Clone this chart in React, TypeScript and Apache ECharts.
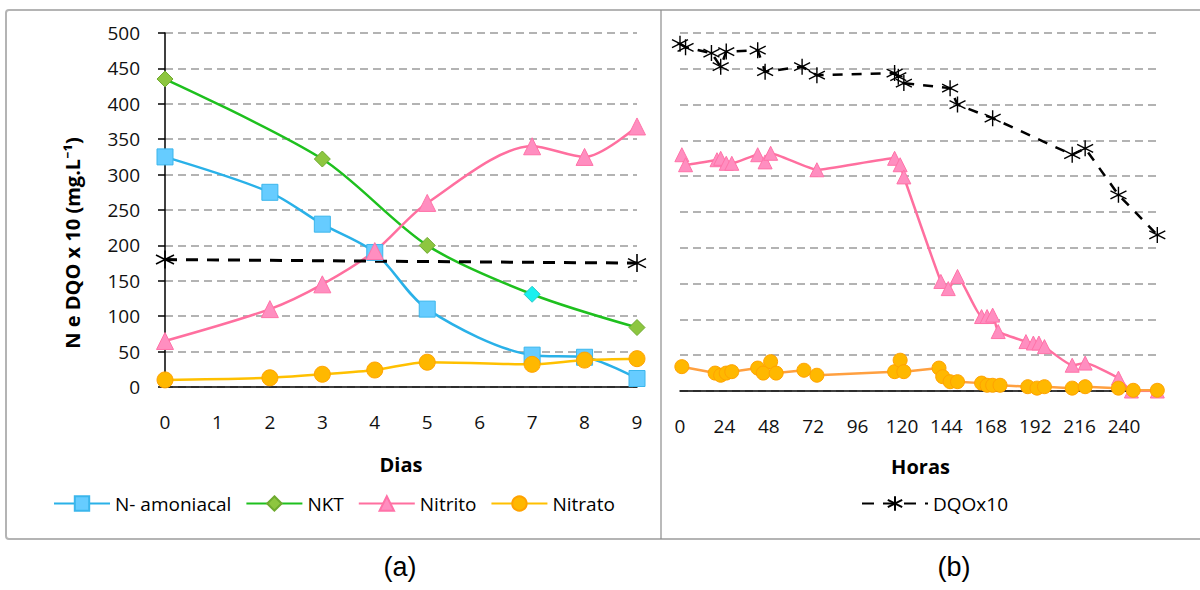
import React, { useEffect, useRef } from 'react';
import * as echarts from 'echarts';

// ---------- Panel (a): days ----------
const dias = [0, 2, 3, 4, 5, 7, 8, 9];
const amoniacal = [325, 275, 230, 190, 110, 45, 42, 12];
const nktDias = [0, 3, 5, 7, 9];
const nkt = [435, 322, 200, 131, 84];
const nitritoA = [65, 110, 145, 192, 260, 340, 325, 368];
const nitratoA = [10, 13, 18, 24, 35, 32, 38, 40];
const dqoDias = [0, 9];
const dqoA = [180, 175];

// ---------- Panel (b): hours ----------
const horasDQO = [0, 3, 17, 22, 25, 42, 46, 66, 74, 116, 118, 121, 146, 150, 169, 212, 219, 237, 258];
const dqoB = [485, 480, 472, 453, 474, 476, 446, 453, 441, 444, 439, 430, 423, 400, 381, 330, 339, 274, 218];
const horasNitrito = [1, 3, 20, 22, 25, 28, 42, 46, 49, 74, 116, 119, 121, 141, 145, 150, 163, 166, 169, 172, 187, 191, 194, 197, 212, 219, 237, 244, 258];
const nitritoB = [330, 316, 323, 325, 318, 318, 330, 320, 332, 309, 325, 316, 299, 153, 143, 160, 104, 104, 106, 83, 69, 67, 67, 62, 36, 39, 18, 0, 0];
const horasNitrato = [1, 19, 22, 25, 28, 42, 45, 49, 52, 67, 74, 116, 119, 121, 140, 142, 146, 150, 163, 166, 169, 173, 188, 193, 197, 212, 219, 237, 245, 258];
const nitratoB = [34, 25, 22, 25, 27, 32, 25, 41, 25, 29, 22, 27, 43, 27, 32, 20, 13, 13, 11, 8, 8, 8, 6, 4, 6, 4, 6, 4, 1, 1];

const legendA = ['N- amoniacal', 'NKT', 'Nitrito', 'Nitrato'];
const legendB = ['DQOx10'];

const FONT = '"Open Sans", "Noto Sans", sans-serif';
const STAR = 'path://M0,-10L0,10M-8.7,-5L8.7,5M-8.7,5L8.7,-5';

const pairs = (xs: number[], ys: number[]) => xs.map((x, i) => [x, ys[i]]);

const colors = {
  blueLine: '#2AB1E8', blueFill: '#66CCFF', blueBorder: '#3BB6EC',
  greenLine: '#1EC01E', greenFill: '#8DC63F', greenBorder: '#6EAA2E',
  pinkLine: '#FF6F9F', pinkFill: '#FF8EC0', pinkBorder: '#FF72A8',
  goldLine: '#FFC000', goldFill: '#FFB800', goldBorder: '#FFA200',
  orangeLine: '#FFA040',
};

export default function App() {
  const ref = useRef<HTMLDivElement>(null);
  useEffect(() => {
    if (!ref.current) return;
    const chart = echarts.init(ref.current, null, { renderer: 'svg' });
    const dashedSplit = { show: true, lineStyle: { color: '#9a9a9a', type: [8, 5], width: 1.5 } };
    const option: any = {
      animation: false,
      backgroundColor: '#ffffff',
      textStyle: { fontFamily: FONT },
      grid: [
        { left: 165, top: 33, width: 472, height: 354 },
        { left: 680, top: 33, width: 481, height: 358 },
      ],
      xAxis: [
        {
          gridIndex: 0, type: 'value', min: 0, max: 9, interval: 1,
          axisLine: { show: true, onZero: false, lineStyle: { color: '#000', width: 1.5 } },
          axisTick: { show: false },
          axisLabel: { fontSize: 19, margin: 25, color: '#111', fontFamily: FONT },
          splitLine: { show: false },
          name: 'Dias', nameLocation: 'middle', nameGap: 67,
          nameTextStyle: { fontSize: 20, fontWeight: 'bold', color: '#000', fontFamily: FONT },
        },
        {
          gridIndex: 1, type: 'value', min: 0, max: 260, interval: 24,
          axisLine: { show: true, onZero: false, lineStyle: { color: '#000', width: 1.5 } },
          axisTick: { show: false },
          axisLabel: {
            fontSize: 19, margin: 25, color: '#111', fontFamily: FONT,
            formatter: (v: number) => (v % 24 === 0 ? String(v) : ''),
          },
          splitLine: { show: false },
          name: 'Horas', nameLocation: 'middle', nameGap: 65,
          nameTextStyle: { fontSize: 20, fontWeight: 'bold', color: '#000', fontFamily: FONT },
        },
      ],
      yAxis: [
        {
          gridIndex: 0, type: 'value', min: 0, max: 500, interval: 50,
          axisLine: { show: true, lineStyle: { color: '#000', width: 1.5 } },
          axisTick: { show: true, length: 7, lineStyle: { color: '#000', width: 1.5 } },
          axisLabel: { fontSize: 19, margin: 25, color: '#111', fontFamily: FONT },
          splitLine: dashedSplit,
        },
        {
          gridIndex: 1, type: 'value', min: 0, max: 500, interval: 50,
          axisLine: { show: false }, axisTick: { show: false }, axisLabel: { show: false },
          splitLine: dashedSplit,
        },
      ],
      legend: [
        {
          data: legendA, left: 48, top: 489, itemWidth: 56, itemHeight: 18, itemGap: 14,
          textStyle: { fontSize: 19, color: '#000', fontFamily: FONT },
        },
        {
          data: legendB, left: 856, top: 489, itemWidth: 66, itemHeight: 18,
          textStyle: { fontSize: 19, color: '#000', fontFamily: FONT },
        },
      ],
      series: [
        {
          name: 'N- amoniacal', type: 'line', xAxisIndex: 0, yAxisIndex: 0, smooth: 0.3,
          data: pairs(dias, amoniacal), symbol: 'rect', symbolSize: 16,
          lineStyle: { color: colors.blueLine, width: 2.5 },
          itemStyle: { color: colors.blueFill, borderColor: colors.blueBorder, borderWidth: 1 },
        },
        {
          name: 'NKT', type: 'line', xAxisIndex: 0, yAxisIndex: 0, smooth: 0.3,
          data: pairs(nktDias, nkt).map((p, i) =>
            nktDias[i] === 7
              ? { value: p, itemStyle: { color: '#19F0F0', borderColor: '#2CC8C8' } }
              : { value: p }),
          symbol: 'diamond', symbolSize: 16,
          lineStyle: { color: colors.greenLine, width: 2.5 },
          itemStyle: { color: colors.greenFill, borderColor: colors.greenBorder, borderWidth: 1 },
        },
        {
          name: 'Nitrito', type: 'line', xAxisIndex: 0, yAxisIndex: 0, smooth: 0.3,
          data: pairs(dias, nitritoA), symbol: 'triangle', symbolSize: 17,
          lineStyle: { color: colors.pinkLine, width: 2.5 },
          itemStyle: { color: colors.pinkFill, borderColor: colors.pinkBorder, borderWidth: 1 },
        },
        {
          name: 'Nitrato', type: 'line', xAxisIndex: 0, yAxisIndex: 0, smooth: 0.3,
          data: pairs(dias, nitratoA), symbol: 'circle', symbolSize: 16,
          lineStyle: { color: colors.goldLine, width: 2.5 },
          itemStyle: { color: colors.goldFill, borderColor: colors.goldBorder, borderWidth: 1 },
        },
        {
          name: 'DQOx10', type: 'line', xAxisIndex: 0, yAxisIndex: 0,
          data: pairs(dqoDias, dqoA), symbol: STAR, symbolSize: 18,
          lineStyle: { color: '#000', width: 3, type: [12, 9] },
          itemStyle: { color: '#000', borderColor: '#000', borderWidth: 1.6 },
        },
        {
          name: 'Nitrito', type: 'line', xAxisIndex: 1, yAxisIndex: 1, smooth: 0.15,
          data: pairs(horasNitrito, nitritoB), symbol: 'triangle', symbolSize: 14,
          lineStyle: { color: colors.pinkLine, width: 2.5 },
          itemStyle: { color: colors.pinkFill, borderColor: colors.pinkBorder, borderWidth: 1 },
        },
        {
          name: 'Nitrato', type: 'line', xAxisIndex: 1, yAxisIndex: 1,
          data: pairs(horasNitrato, nitratoB), symbol: 'circle', symbolSize: 14,
          lineStyle: { color: colors.orangeLine, width: 2.5 },
          itemStyle: { color: colors.goldFill, borderColor: colors.goldBorder, borderWidth: 1 },
        },
        {
          name: 'DQOx10', type: 'line', xAxisIndex: 1, yAxisIndex: 1,
          data: pairs(horasDQO, dqoB), symbol: STAR, symbolSize: 16,
          lineStyle: { color: '#000', width: 2.5, type: [10, 9] },
          itemStyle: { color: '#000', borderColor: '#000', borderWidth: 1.4 },
        },
      ],
      graphic: [
        {
          type: 'rect', shape: { x: 6, y: 10, width: 1210, height: 529, r: 3 },
          style: { fill: 'none', stroke: '#b4b4b4', lineWidth: 2 }, silent: true, z: -1,
        },
        {
          type: 'line', shape: { x1: 661, y1: 10, x2: 661, y2: 539 },
          style: { stroke: '#8c8c8c', lineWidth: 1.2 }, silent: true,
        },
        {
          type: 'text', x: 72, y: 243, rotation: Math.PI / 2,
          style: {
            text: 'N e DQO x 10 (mg.L⁻¹)', fontSize: 20, fontWeight: 'bold', fill: '#000',
            fontFamily: FONT, textAlign: 'center', textVerticalAlign: 'middle',
          },
        },
        {
          type: 'text', x: 400, y: 567,
          style: { text: '(a)', fontSize: 27, fill: '#000', fontFamily: '"Liberation Sans", Arial, sans-serif', textAlign: 'center', textVerticalAlign: 'middle' },
        },
        {
          type: 'text', x: 954, y: 567,
          style: { text: '(b)', fontSize: 27, fill: '#000', fontFamily: '"Liberation Sans", Arial, sans-serif', textAlign: 'center', textVerticalAlign: 'middle' },
        },
      ],
    };
    chart.setOption(option);
    return () => chart.dispose();
  }, []);
  return (
    <div
      ref={ref}
      style={{ position: 'fixed', left: 0, top: 0, width: 1200, height: 590, background: '#fff' }}
    />
  );
}
